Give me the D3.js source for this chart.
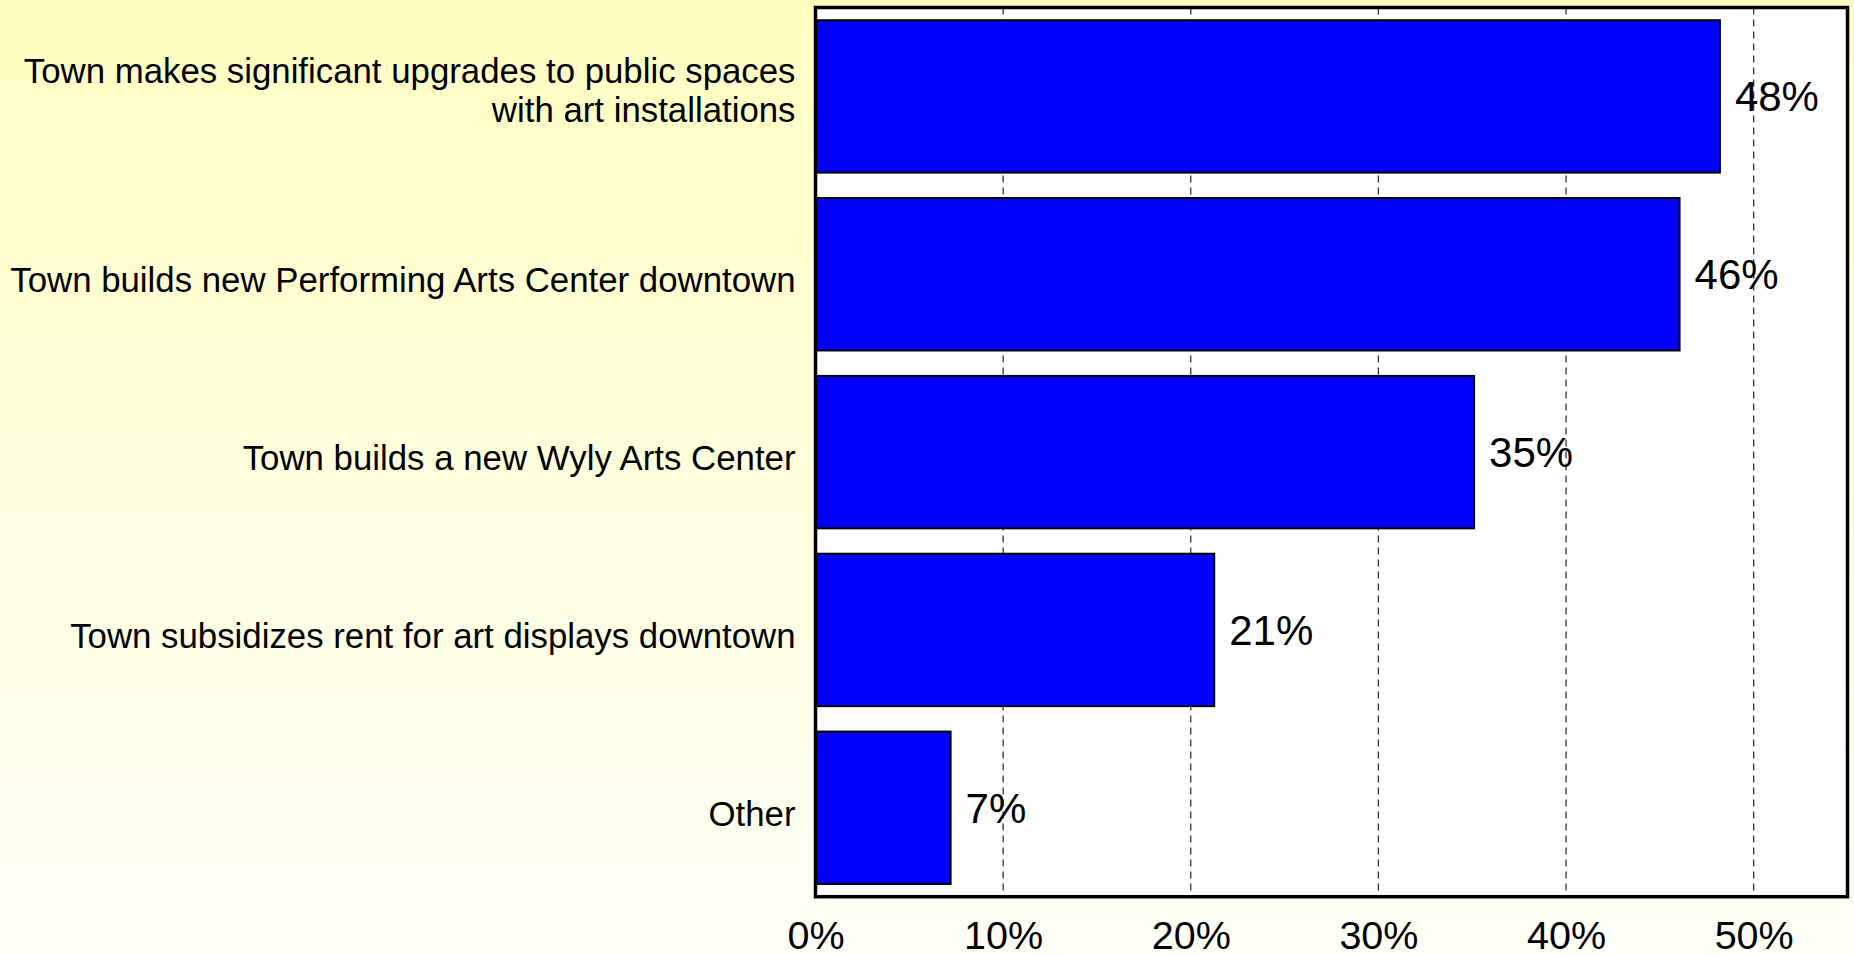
<!DOCTYPE html>
<html>
<head>
<meta charset="utf-8">
<script src="https://cdn.jsdelivr.net/npm/d3@7"></script>
<style>
  body { margin: 0; overflow: hidden; }
  svg { display: block; font-family: Arial, "Liberation Sans", sans-serif; }
</style>
</head>
<body>
<svg id="chart" width="1854" height="954"></svg>
<script>
// Chart data
const categories = [
    "Town makes significant upgrades to public spaces\nwith art installations",
    "Town builds new Performing Arts Center downtown",
    "Town builds a new Wyly Arts Center",
    "Town subsidizes rent for art displays downtown",
    "Other"
];
const values = [48.2, 46.05, 35.1, 21.25, 7.2];
const xTicks = [0, 10, 20, 30, 40, 50];

function drawChart() {
    const svg = d3.select("#chart"),
          width = 1854, height = 954,
          margin = { top: 7.5, right: 6.5, bottom: 57.3, left: 815.5 };
    const w = width - margin.left - margin.right,
          h = height - margin.top - margin.bottom;

    // background gradient
    const defs = svg.append("defs");
    const grad = defs.append("linearGradient")
        .attr("id", "bg").attr("x1", 0).attr("y1", 0).attr("x2", 0).attr("y2", 1);
    grad.append("stop").attr("offset", "0%").attr("stop-color", "#ffffc2");
    grad.append("stop").attr("offset", "100%").attr("stop-color", "#fffff8");
    svg.append("rect").attr("width", width).attr("height", height).attr("fill", "url(#bg)");

    const g = svg.append("g").attr("transform", `translate(${margin.left},${margin.top})`);

    const x = d3.scaleLinear().domain([0, 55]).range([0, w]);
    const y = d3.scaleBand().domain(categories).range([0, h])
        .paddingInner(0.143).paddingOuter(0.0715);

    // plot area
    g.append("rect").attr("width", w).attr("height", h).attr("fill", "#fff");

    // dashed gridlines
    g.selectAll(".grid")
        .data(xTicks.filter(d => d > 0))
        .enter().append("line")
        .attr("x1", d => x(d)).attr("x2", d => x(d))
        .attr("y1", 0).attr("y2", h)
        .attr("stroke", "#222")
        .attr("stroke-width", 1.2)
        .attr("stroke-dasharray", "7,5");

    // bars
    g.selectAll(".bar")
        .data(values)
        .enter().append("rect")
        .attr("x", x(0))
        .attr("y", (d, i) => y(categories[i]))
        .attr("width", d => x(d) - x(0))
        .attr("height", y.bandwidth())
        .attr("fill", "#0000ff")
        .attr("stroke", "#000")
        .attr("stroke-width", 2);

    // value labels
    g.selectAll(".val")
        .data(values)
        .enter().append("text")
        .attr("x", d => x(d) + 15)
        .attr("y", (d, i) => y(categories[i]) + y.bandwidth() / 2 + 15)
        .attr("font-size", 42)
        .attr("fill", "#000")
        .text(d => Math.round(d) + "%");

    // frame
    g.append("rect").attr("width", w).attr("height", h)
        .attr("fill", "none").attr("stroke", "#000").attr("stroke-width", 3.5);

    // category labels
    const cat = g.selectAll(".cat")
        .data(categories)
        .enter().append("text")
        .attr("text-anchor", "end")
        .attr("font-size", 34.8)
        .attr("fill", "#000");
    cat.each(function(d) {
        const lines = d.split("\n");
        // multi-line labels sit a bit higher than single ones
        const cy = y(d) + y.bandwidth() / 2 + 18 - (lines.length - 1) * 31;
        lines.forEach((l, i) => {
            d3.select(this).append("tspan")
                .attr("x", -20)
                .attr("y", cy + i * 39)
                .text(l);
        });
    });

    // x axis labels
    const xAxis = g.append("g")
        .attr("transform", `translate(0,${h})`)
        .call(d3.axisBottom(x).tickValues(xTicks).tickFormat(d => d + "%").tickSize(0).tickPadding(25));
    xAxis.select(".domain").remove();
    xAxis.selectAll("text")
        .attr("font-size", 39.5)
        .attr("font-family", "Arial, 'Liberation Sans', sans-serif")
        .attr("fill", "#000")
        .attr("dy", 0)
        .attr("y", 52);
}

drawChart();
</script>
</body>
</html>
